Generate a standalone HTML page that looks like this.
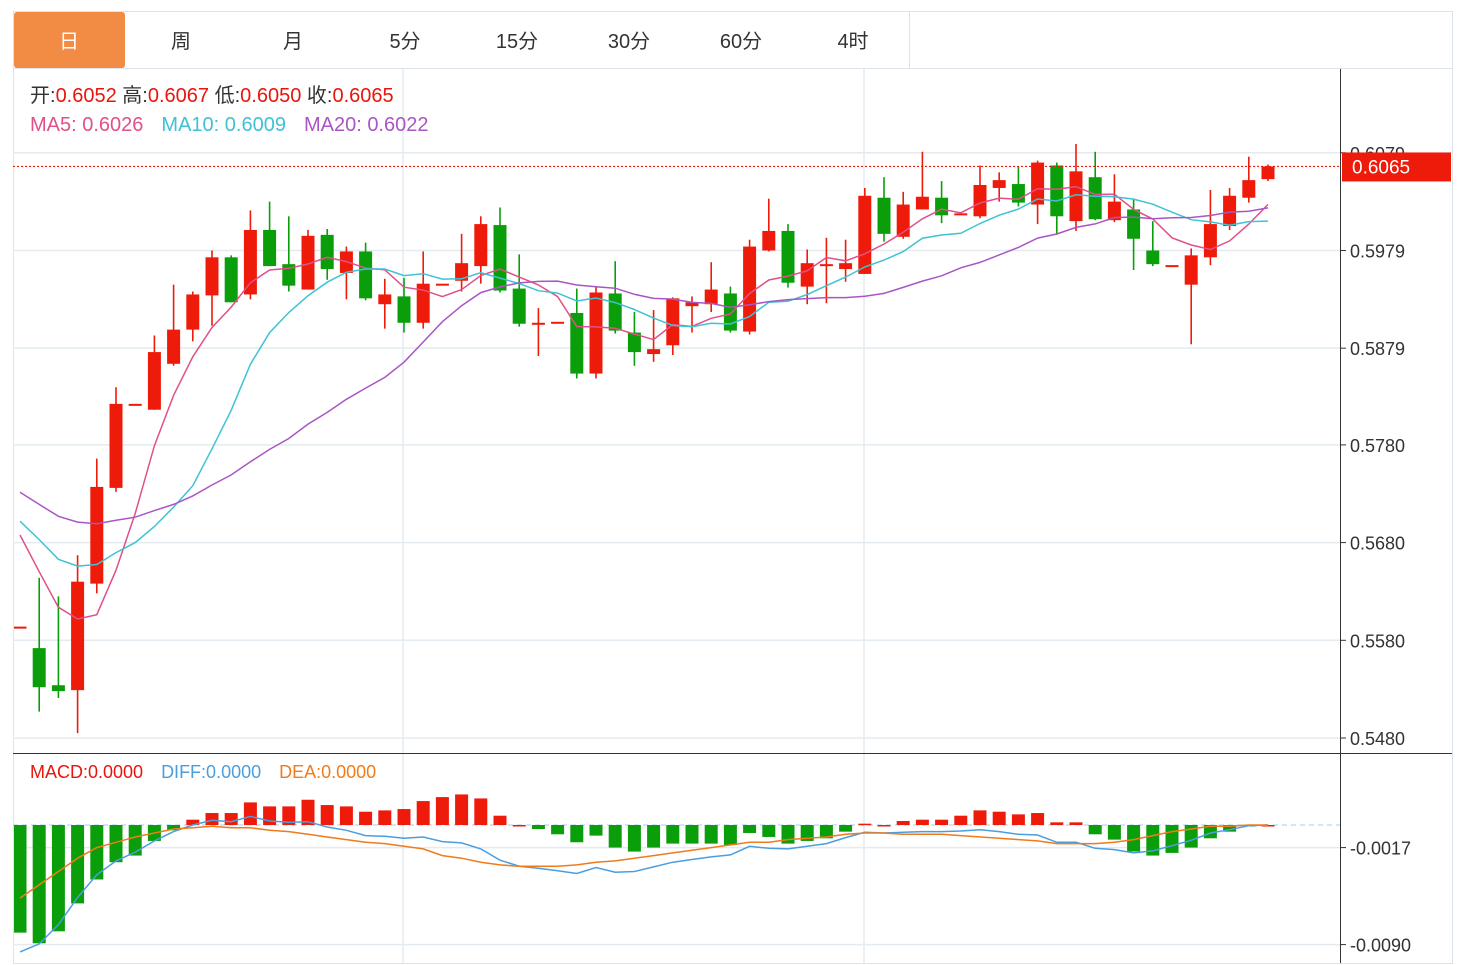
<!DOCTYPE html>
<html><head><meta charset="utf-8"><style>
html,body{margin:0;padding:0;background:#fff;width:1467px;height:965px;overflow:hidden}
svg{display:block;font-family:"Liberation Sans","Noto Sans CJK SC",sans-serif}
</style></head><body>
<svg id="chart" width="1467" height="965" viewBox="0 0 1467 965">
<rect x="13.5" y="11.5" width="1439" height="952" fill="#fff" stroke="#dde3ea"/>
<g id="tabs"></g>
<g id="grid"></g>
<g id="macdg"></g>
<g id="candles"></g>
<g id="mas"></g>
<g id="axis"></g>
<g id="legend">
<text x="30" y="102" font-size="20" fill="#333">开:<tspan fill="#e8150c">0.6052</tspan>  高:<tspan fill="#e8150c">0.6067</tspan>  低:<tspan fill="#e8150c">0.6050</tspan>  收:<tspan fill="#e8150c">0.6065</tspan></text>
<text x="30" y="131" font-size="20"><tspan fill="#e0508a">MA5:  0.6026</tspan><tspan fill="#3ec2d4" dx="18">MA10:  0.6009</tspan><tspan fill="#a956c4" dx="18">MA20:  0.6022</tspan></text>
<text x="30" y="778" font-size="18"><tspan fill="#e8150c">MACD:0.0000</tspan><tspan fill="#4a9ee0" dx="18">DIFF:0.0000</tspan><tspan fill="#f07b1a" dx="18">DEA:0.0000</tspan></text>
</g>
</svg>
<script>
// data (prices ×1e-4)
const history = [5780,5770,5760,5770,5750,5760,5740,5770,5760,5750,5720,5730,5710,5720,5700,5720,5710,5700,5715];
const opens  = [5594,5572,5534,5529,5638,5736,5822,5816,5863,5898,5933,5972,5934,6000,5965,5939,5995,5956,5978,5924,5932,5905,5945,5948,5963,6005,5940,5905,5906,5915,5853,5935,5895,5873,5882,5922,5924,5935,5896,5979,5999,5942,5963,5960,5955,6033,5993,6021,6033,6017,6014,6043,6047,6026,6066,6009,6054,6010,6021,5979,5964,5944,5972,6004,6033,6052];
const highs  = [5594,5644,5625,5667,5766,5839,5822,5892,5944,5937,5979,5974,6020,6029,6014,6000,6001,5983,5987,5950,5951,5978,5945,5996,6014,6023,5975,5920,5906,5940,5942,5968,5916,5918,5931,5932,5967,5942,5990,6032,6006,5980,5992,5990,6043,6054,6039,6080,6050,6017,6066,6059,6065,6071,6069,6088,6080,6057,6032,6009,5964,5981,6041,6043,6075,6067];
const lows   = [5594,5507,5521,5485,5628,5732,5822,5816,5861,5886,5902,5926,5929,5963,5937,5939,5949,5929,5928,5899,5895,5899,5945,5937,5945,5936,5901,5871,5906,5848,5848,5894,5861,5865,5872,5895,5916,5895,5893,5978,5941,5924,5925,5947,5955,5988,5991,6021,6007,6017,6012,6029,6024,6006,5995,5999,6010,6008,5959,5963,5964,5883,5964,6000,6028,6050];
const closes = [5594,5532,5528,5640,5737,5822,5822,5875,5898,5934,5972,5926,6000,5963,5943,5994,5960,5978,5930,5934,5905,5945,5945,5966,6006,5938,5904,5905,5906,5853,5936,5897,5875,5878,5930,5926,5939,5897,5983,5999,5946,5966,5965,5966,6035,5996,6026,6034,6015,6017,6046,6051,6028,6069,6014,6060,6011,6029,5991,5965,5964,5974,6006,6035,6051,6065];
// MACD (×1e-4)
const macdHist = [-81,-89,-80,-59,-41,-28,-23,-12,-4,4,9,9,17,14,14,19,15,14,10,11,12,18,21,23,20,7,0,-3,-7,-13,-8,-17,-20,-17,-14,-14,-14,-15,-6,-9,-14,-12,-10,-5,1,0,3,4,4,7,11,10,8,9,2,2,-7,-11,-20,-23,-21,-17,-10,-5,-1,0];
const deaVals  = [-55,-45,-35,-25,-17,-13,-9,-6,-3,-2,-1,-2,-2,-4,-5,-7,-9,-11,-13,-14,-16,-18,-23,-25,-28,-30,-31,-31,-31,-30,-28,-27,-25,-23,-21,-19,-17,-15,-13,-13,-11,-10,-9,-7,-6,-6,-7,-7,-7,-8,-9,-10,-11,-12,-14,-14,-14,-13,-11,-8,-5,-3,-1,-1,0,0];
const priceTicks = [0.6079,0.5979,0.5879,0.5780,0.5680,0.5580,0.5480];
const macdTicks = [-0.0017,-0.0090];
const tabLabels = ["日","周","月","5分","15分","30分","60分","4时"];

const NS="http://www.w3.org/2000/svg";
function mk(tag,attrs,parent){const e=document.createElementNS(NS,tag);for(const k in attrs)e.setAttribute(k,attrs[k]);parent.appendChild(e);return e;}
const yP = p => 738 - (p-0.548)*9770;
const yM = v => 825 - v*13288;
const xI = i => 20 + 19.2*i;
const RED="#ee1a0a", GREEN="#0a9e0a";

// tabs
const tabs=document.getElementById('tabs');
tabLabels.forEach((t,i)=>{
  const x=13+112*i;
  const r=mk('rect',{x:i==0?x+1:x,y:12,width:i==0?111:112,height:56,rx:i==0?3:0,fill:i==0?"#f28c45":"#fff"},tabs);
  
  
  if(i>0){const l=mk('line',{x1:x+112.5,y1:12,x2:x+112.5,y2:68,stroke:"#dde3ea"},tabs);
  
  }
  const tx=mk('text',{x:x+56,y:48,'font-size':20,'text-anchor':'middle',fill:i==0?"#fff":"#333"},tabs);
  tx.textContent=t;
  
  
});
let tl=mk('line',{x1:13,y1:68.5,x2:1452,y2:68.5,stroke:"#dde3ea"},tabs);



// grid
const grid=document.getElementById('grid');
priceTicks.forEach(p=>{const l=mk('line',{x1:13,y1:yP(p),x2:1340,y2:yP(p),stroke:"#e3ebf1","stroke-width":1.5},grid);

});
macdTicks.forEach(v=>{const l=mk('line',{x1:13,y1:yM(v),x2:1340,y2:yM(v),stroke:"#e3ebf1","stroke-width":1.5},grid);

});
[403,864].forEach(x=>{const l=mk('line',{x1:x,y1:69,x2:x,y2:963,stroke:"#e3ebf1","stroke-width":1.5},grid);

});
let sep=mk('line',{x1:13,y1:753.5,x2:1452,y2:753.5,stroke:"#333"},grid);



// candles
const cg=document.getElementById('candles');
closes.forEach((c,i)=>{
  const o=opens[i]/1e4,cc=c/1e4,h=highs[i]/1e4,l=lows[i]/1e4;
  const col=cc>=o?RED:GREEN, x=xI(i);
  const g=mk('g',{},cg);
  
  
  mk('line',{x1:x,y1:yP(h),x2:x,y2:yP(l),stroke:col,"stroke-width":1.6},g);
  const top=Math.min(yP(o),yP(cc)),bh=Math.max(Math.abs(yP(o)-yP(cc)),2);
  let bx=x-6.5,bw=13; if(bx<14){bw-=14-bx;bx=14;}
  mk('rect',{x:bx,y:top,width:bw,height:bh,fill:col},g);
});

// MAs
const all=history.concat(closes);
function ma(n){return closes.map((c,i)=>{const j=i+history.length;let s=0;for(let k=j-n+1;k<=j;k++)s+=all[k];return s/n/1e4;});}
const mg=document.getElementById('mas');
[[5,"#e0508a"],[10,"#3ec2d4"],[20,"#a956c4"]].forEach(([n,col])=>{
  const v=ma(n);
  const pts=v.map((p,i)=>Math.max(xI(i),14)+","+yP(p).toFixed(1)).join(" ");
  const pl=mk('polyline',{points:pts,fill:"none",stroke:col,"stroke-width":1.5},mg);
  
  
});

// current price line
let cl=mk('line',{x1:13,y1:yP(closes[closes.length-1]/1e4),x2:1340,y2:yP(closes[closes.length-1]/1e4),stroke:RED,"stroke-dasharray":"2,2","stroke-width":1.2},mg);



// MACD
const mp=document.getElementById('macdg');
let z=mk('line',{x1:13,y1:yM(0),x2:1340,y2:yM(0),stroke:"#9fd0ea","stroke-dasharray":"5,4","stroke-width":1},mp);


macdHist.forEach((h,i)=>{
  const v=h/1e4,x=xI(i);
  let bx=x-6.5,bw=13; if(bx<14){bw-=14-bx;bx=14;}
  const r=mk('rect',{x:bx,y:Math.min(yM(0),yM(v)),width:bw,height:Math.max(Math.abs(yM(v)-yM(0)),1.5),fill:h>=0?RED:GREEN},mp);
  
  
});
const diffVals=deaVals.map((d,i)=>d+macdHist[i]/2);
[[diffVals,"#4a9ee0","diff-line"],[deaVals,"#f07b1a","dea-line"]].forEach(([arr,col,name])=>{
  const pts=arr.map((d,i)=>Math.max(xI(i),14)+","+yM(d/1e4).toFixed(1)).join(" ");
  const pl=mk('polyline',{points:pts,fill:"none",stroke:col,"stroke-width":1.5},mp);
  
  
});

// axis
const ax=document.getElementById('axis');
let al=mk('line',{x1:1340.5,y1:69,x2:1340.5,y2:963,stroke:"#333"},ax);


priceTicks.forEach(p=>{
  const y=yP(p);
  mk('line',{x1:1340,y1:y,x2:1346,y2:y,stroke:"#333"},ax);
  const t=mk('text',{x:1350,y:y+7,'font-size':18,fill:"#333"},ax);
  t.textContent=p.toFixed(4);
  
  
});
macdTicks.forEach(v=>{
  const y=yM(v);
  mk('line',{x1:1340,y1:y,x2:1346,y2:y,stroke:"#333"},ax);
  const t=mk('text',{x:1350,y:y+7,'font-size':18,fill:"#333"},ax);
  t.textContent=v.toFixed(4);
  
  
});
const lastY=yP(closes[closes.length-1]/1e4);
const tag=mk('rect',{x:1342,y:lastY-14,width:109,height:29,fill:"#ee1a0a"},ax);


const tt=mk('text',{x:1352,y:lastY+7,'font-size':19,fill:"#fff"},ax);
tt.textContent=(closes[closes.length-1]/1e4).toFixed(4);


</script>
</body></html>
